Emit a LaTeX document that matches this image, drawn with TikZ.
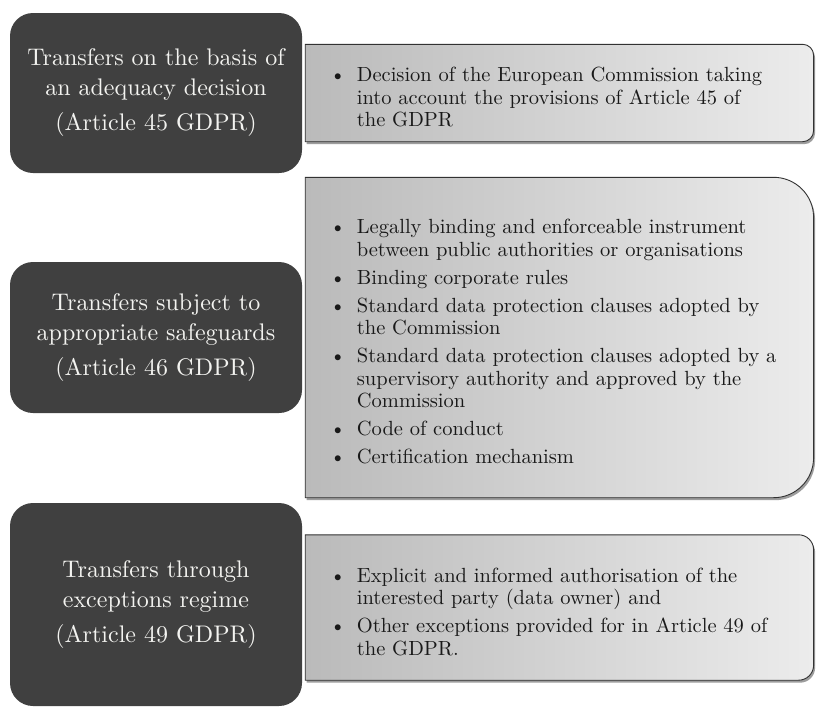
\documentclass[tikz,border=0pt]{standalone}
\usepackage{fontspec}
\setmainfont{lmroman10-regular.otf}
\usepackage{xcolor}
\usepackage{tikz}
\usepackage{enumitem}
\usetikzlibrary{positioning, backgrounds}
\definecolor{panelgray}{RGB}{64, 64, 64}
\definecolor{headwhite}{RGB}{243, 243, 240}
\definecolor{shadeleft}{RGB}{186, 186, 186}
\definecolor{shaderight}{RGB}{236, 236, 236}
\definecolor{edgegray}{RGB}{50, 50, 50}
\definecolor{listtext}{RGB}{25, 25, 25}

% outline of a list panel: square on the left, rounded on the right
\newcommand{\listpanel}[2]{(#1.north west) -- ([xshift=-#2]#1.north east)
  arc[start angle=90, end angle=0, radius=#2] -- ([yshift=#2]#1.south east)
  arc[start angle=0, end angle=-90, radius=#2] -- (#1.south west) -- cycle}

\newenvironment{points}{\begin{itemize}[nosep, leftmargin=19pt, labelsep=11pt, itemsep=5.5pt, label=\textbullet]}{\end{itemize}}

\begin{document}
\begin{tikzpicture}[
  x=1pt, y=1pt,
  node distance=3pt,
  heading/.style={rectangle, rounded corners=23pt, fill=panelgray, minimum width=292pt, align=center, text=headwhite, font=\fontsize{24}{30}\selectfont},
  details/.style={rectangle, minimum width=508pt, text width=443pt, inner sep=0pt, align=left, text=listtext, font=\fontsize{20.5}{22.5}\selectfont},
]
  \useasboundingbox (0,0) rectangle (817,-707);

  \node[heading, minimum height=160pt] (adequacy) at (156,-93) {Transfers on the basis of\\an adequacy decision\\[5pt](Article 45 GDPR)};
  \node[heading, minimum height=151pt] (safeguards) at (156,-337.5) {Transfers subject to\\appropriate safeguards\\[5pt](Article 46 GDPR)};
  \node[heading, minimum height=203pt] (exceptions) at (156,-604.5) {Transfers through\\exceptions regime\\[5pt](Article 49 GDPR)};

  \node[details, minimum height=97pt, right=of adequacy] (adequacylist) {\begin{points}
    \item Decision of the European Commission taking\\into account the provisions of Article 45 of\\the GDPR
  \end{points}};
  \node[details, minimum height=320pt, right=of safeguards] (safeguardslist) {\begin{points}
    \item Legally binding and enforceable instrument\\between public authorities or organisations
    \item Binding corporate rules
    \item Standard data protection clauses adopted by\\the Commission
    \item Standard data protection clauses adopted by a\\supervisory authority and approved by the\\Commission
    \item Code of conduct
    \item Certification mechanism
  \end{points}};
  \node[details, minimum height=145pt, right=of exceptions, yshift=-3pt] (exceptionslist) {\begin{points}
    \item Explicit and informed authorisation of the\\interested party (data owner) and
    \item Other exceptions provided for in Article 49 of\\the GDPR.
  \end{points}};

  \begin{scope}[on background layer]
    \foreach \g/\r in {adequacylist/11pt, safeguardslist/40pt, exceptionslist/15pt} {
      \fill[black!70, opacity=.55, transform canvas={xshift=1.5pt, yshift=-2.5pt}] \listpanel{\g}{\r};
      \shadedraw[left color=shadeleft, right color=shaderight, draw=edgegray, line width=.9pt] \listpanel{\g}{\r};
    }
  \end{scope}
\end{tikzpicture}
\end{document}
